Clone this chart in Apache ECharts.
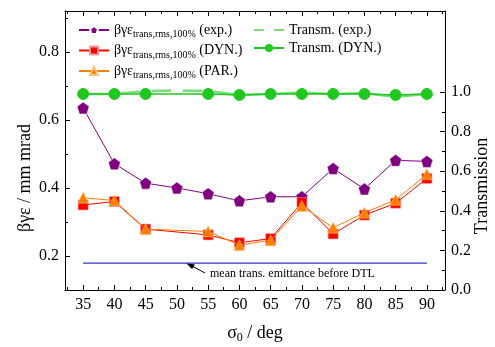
<!DOCTYPE html>
<html><head><meta charset="utf-8">
<script src="https://cdn.jsdelivr.net/npm/echarts@6/dist/echarts.min.js"></script>
<style>html,body{margin:0;padding:0;background:#fff}#c{width:495px;height:347px}</style>
</head><body><div id="c"></div>
<script>
// ---- data ----
const sigmaExp = [35, 40, 45, 50, 55, 60, 65, 70, 75, 80, 85, 90];
const emitExp = [0.635, 0.471, 0.414, 0.400, 0.383, 0.362, 0.374, 0.374, 0.457, 0.397, 0.481, 0.478];
const sigmaSim = [35, 40, 45, 55, 60, 65, 70, 75, 80, 85, 90];
const emitDyn = [0.350, 0.360, 0.279, 0.262, 0.239, 0.251, 0.357, 0.265, 0.320, 0.355, 0.428];
const emitPar = [0.371, 0.363, 0.279, 0.272, 0.232, 0.246, 0.347, 0.283, 0.327, 0.365, 0.440];
const transExp = [0.99, 0.99, 1.005, 1.007, 1.005, 0.985, 0.99, 0.997, 0.99, 0.995, 0.975, 0.99];
const transDyn = [0.99, 0.99, 0.99, 0.99, 0.985, 0.99, 0.99, 0.99, 0.99, 0.985, 0.99];
const meanSigma = [35, 90];
const meanEmit = [0.179, 0.179];
const xMajor = [35, 40, 45, 50, 55, 60, 65, 70, 75, 80, 85, 90];
const xMinor = [32.5, 37.5, 42.5, 47.5, 52.5, 57.5, 62.5, 67.5, 72.5, 77.5, 82.5, 87.5, 92.5];
const yLeftMajor = [0.2, 0.4, 0.6, 0.8];
const yLeftMinor = [0.3, 0.5, 0.7, 0.9];
const yRightMajor = [0, 0.2, 0.4, 0.6, 0.8, 1.0];
const yRightMinor = [0.1, 0.3, 0.5, 0.7, 0.9];

const pair = (xs, ys) => xs.map((x, i) => [x, ys[i]]);
const FONT = 'Liberation Serif, DejaVu Serif, serif';
const pentagon = 'path://M0,-1 L0.951,-0.309 L0.588,0.809 L-0.588,0.809 L-0.951,-0.309 Z';
const XMIN = 32.1, XMAX = 92.9;

function xAx(pos, vals, len, showLine, showLabel) {
  return {
    type: 'value', position: pos, min: XMIN, max: XMAX,
    axisLine: {show: showLine, onZero: false, lineStyle: {color: '#000', width: 1}},
    axisTick: {show: true, inside: true, length: len, customValues: vals, lineStyle: {color: '#000'}},
    axisLabel: {show: showLabel, customValues: xMajor, color: '#000', fontFamily: FONT, fontSize: 16, margin: 7},
    splitLine: {show: false}
  };
}
function yAx(pos, min, max, vals, len, showLine, labels) {
  return {
    type: 'value', position: pos, min: min, max: max,
    axisLine: {show: showLine, onZero: false, lineStyle: {color: '#000', width: 1}},
    axisTick: {show: true, inside: true, length: len, customValues: vals, lineStyle: {color: '#000'}},
    axisLabel: {show: !!labels, customValues: labels || [], color: '#000', fontFamily: FONT, fontSize: 16, margin: 6,
      formatter: v => v.toFixed(1)},
    splitLine: {show: false}
  };
}

const xAxes = [
  xAx('bottom', xMajor, 5, true, true),
  xAx('bottom', xMinor, 3, false, false),
  xAx('top', xMajor, 5, true, false),
  xAx('top', xMinor, 3, false, false)
];
const yAxes = [
  yAx('left', 0.1, 0.92, yLeftMajor, 5, true, yLeftMajor),
  yAx('right', 0, 1.409, yRightMajor, 5, true, yRightMajor),
  yAx('left', 0.1, 0.92, yLeftMinor, 3, false, null),
  yAx('right', 0, 1.409, yRightMinor, 3, false, null)
];

const legendNames = {
  'e_exp': '{a|βγε}{s|trans,rms,100%}{a| (exp.)}',
  'e_dyn': '{a|βγε}{s|trans,rms,100%}{a| (DYN.)}',
  'e_par': '{a|βγε}{s|trans,rms,100%}{a| (PAR.)}',
  't_exp': '{a|Transm. (exp.)}',
  't_dyn': '{a|Transm. (DYN.)}'
};
const legendRich = {
  a: {fontFamily: FONT, fontSize: 14, color: '#000'},
  s: {fontFamily: FONT, fontSize: 10, color: '#000', padding: [9, 0, 0, 0]}
};

const chart = echarts.init(document.getElementById('c'), null, {renderer: 'canvas'});
chart.setOption({
  animation: false,
  backgroundColor: '#fff',
  textStyle: {fontFamily: FONT},
  grid: {left: 65, right: 50, top: 11, bottom: 57, containLabel: false, outerBoundsMode: 'none'},
  xAxis: xAxes,
  yAxis: yAxes,
  legend: [
    {data: ['e_exp', 'e_dyn', 'e_par'], orient: 'vertical', left: 73, top: 18, itemGap: 4, itemWidth: 30, itemHeight: 10,
     formatter: n => legendNames[n], textStyle: {rich: legendRich}},
    {data: [{name: 't_exp', itemStyle: {color: '#fff', borderColor: '#33cc33', borderWidth: 1.2}}, 't_dyn'],
     orient: 'vertical', left: 248, top: 18, itemGap: 4, itemWidth: 30, itemHeight: 10,
     formatter: n => legendNames[n], textStyle: {rich: legendRich}}
  ],
  series: [
    {name: 'mean', type: 'line', xAxisIndex: 0, yAxisIndex: 0, data: pair(meanSigma, meanEmit), showSymbol: false, symbol: 'none',
     lineStyle: {color: '#3333cc', width: 1.2}, z: 1},
    {name: 't_exp', type: 'line', xAxisIndex: 0, yAxisIndex: 1, data: pair(sigmaExp, transExp), symbol: 'emptyCircle', symbolSize: 10,
     itemStyle: {color: '#fff', borderColor: '#33cc33', borderWidth: 1.2}, lineStyle: {color: '#7ddc7d', width: 2.5}, z: 3},
    {name: 't_dyn', type: 'line', xAxisIndex: 0, yAxisIndex: 1, data: pair(sigmaSim, transDyn), symbol: 'circle', symbolSize: 11,
     itemStyle: {color: '#1ec81e', borderColor: '#1ec81e'}, lineStyle: {color: '#1ec81e', width: 1.5}, z: 4},
    {name: 'e_exp', type: 'line', xAxisIndex: 0, yAxisIndex: 0, data: pair(sigmaExp, emitExp), symbol: pentagon, symbolSize: 12,
     itemStyle: {color: '#800080', borderColor: '#fff', borderWidth: 0.5}, lineStyle: {color: '#800080', width: 1}, z: 5},
    {name: 'e_dyn', type: 'line', xAxisIndex: 0, yAxisIndex: 0, data: pair(sigmaSim, emitDyn), symbol: 'rect', symbolSize: 10,
     itemStyle: {color: '#ff0000', borderColor: '#ff9999', borderWidth: 0.5}, lineStyle: {color: '#ff0000', width: 1}, z: 6},
    {name: 'e_par', type: 'line', xAxisIndex: 0, yAxisIndex: 0, data: pair(sigmaSim, emitPar), symbol: 'triangle', symbolSize: 11,
     itemStyle: {color: '#ff8000', borderColor: '#ffc080', borderWidth: 0.5}, lineStyle: {color: '#ff8000', width: 1}, z: 7}
  ],
  graphic: [
    {type: 'text', left: 210, top: 268, style: {text: 'mean trans. emittance before DTL', font: '12px ' + FONT, fill: '#000'}},
    {type: 'line', shape: {x1: 205, y1: 273, x2: 192, y2: 266}, style: {stroke: '#000', lineWidth: 1}},
    {type: 'polygon', shape: {points: [[186, 263], [195, 264.5], [192, 269]]}, style: {fill: '#000'}},
    {type: 'text', x: 25, y: 178, rotation: Math.PI / 2,
     style: {text: 'βγε / mm mrad', font: '18px ' + FONT, fill: '#000', align: 'center', verticalAlign: 'middle'}},
    {type: 'text', x: 482, y: 186, rotation: Math.PI / 2,
     style: {text: 'Transmission', font: '18px ' + FONT, fill: '#000', align: 'center', verticalAlign: 'middle'}},
    {type: 'text', x: 255, y: 333,
     style: {text: '{a|σ}{s|0}{a| / deg}', fill: '#000', align: 'center', verticalAlign: 'middle',
       rich: {a: {fontFamily: FONT, fontSize: 18, fill: '#000'}, s: {fontFamily: FONT, fontSize: 12, fill: '#000', padding: [10, 0, 0, 0]}}}}
  ]
});
</script></body></html>
